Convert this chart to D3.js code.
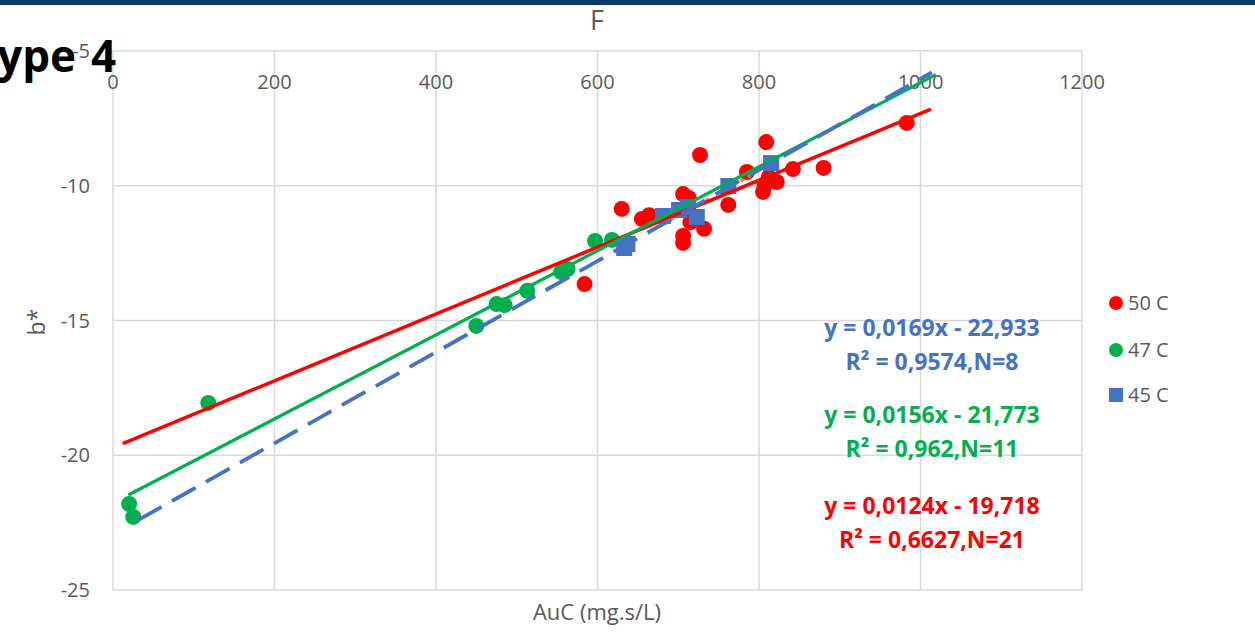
<!DOCTYPE html>
<html>
<head>
<meta charset="utf-8">
<title>F - b* vs AuC</title>
<script src="https://d3js.org/d3.v7.min.js"></script>
<style>
  body { margin: 0; background: #fff; }
  text { font-family: "Open Sans", "DejaVu Sans", sans-serif; }
</style>
</head>
<body>
<script>
// data: [AuC, b*]
const s50 = [
  [584, -13.65], [630, -10.86], [655, -11.23], [664, -11.09], [706, -10.31],
  [713, -10.45], [715, -11.35], [706, -11.86], [706, -12.12], [732, -11.6],
  [727, -8.86], [762, -10.71], [785, -9.49], [809, -8.38], [812, -9.68],
  [822, -9.86], [805, -10.23], [807, -9.97], [842, -9.38], [880, -9.34], [983, -7.67]
];
const s47 = [
  [20, -21.81], [25, -22.29], [118, -18.06], [450, -15.2], [475, -14.39],
  [485, -14.43], [513, -13.9], [555, -13.2], [563, -13.09], [597, -12.05], [618, -12.01]
];
const s45 = [
  [633, -12.31], [637, -12.16], [681, -11.12], [701, -10.9], [712, -10.79],
  [723, -11.16], [762, -10.01], [815, -9.16]
];
// tiny orange markers
const sExtra = [[640, -12.12], [684, -11.38], [692, -11.23], [736, -10.53], [779, -9.79], [788, -9.64]];

// trendlines: slope, intercept and x extent
const trend50 = { slope: 0.0124, intercept: -19.718, from: 12, to: 1013 };
const trend47 = { slope: 0.0156, intercept: -21.773, from: 19, to: 1019 };
const trend45 = { slope: 0.0169, intercept: -22.933, from: 31, to: 1014 };

const eq45 = ["y = 0,0169x - 22,933", "R² = 0,9574,N=8"];
const eq47 = ["y = 0,0156x - 21,773", "R² = 0,962,N=11"];
const eq50 = ["y = 0,0124x - 19,718", "R² = 0,6627,N=21"];

const xTicks = [0, 200, 400, 600, 800, 1000, 1200];
const yTicks = [-5, -10, -15, -20, -25];
const legendNames = ["50 C", "47 C", "45 C"];

const W = 1255, H = 634;
const red = "#FF0000", green = "#00B050", blue = "#4472C4", orange = "#ED7D31";
const grey = "#595959";

const svg = d3.select("body").append("svg").attr("width", W).attr("height", H);

const x = d3.scaleLinear().domain([0, 1200]).range([113, 1082]);
const y = d3.scaleLinear().domain([-25, -5]).range([590, 51]);

// navy band on top
svg.append("rect").attr("x", 0).attr("y", 0).attr("width", W).attr("height", 5).attr("fill", "#0B3A66");

// grid
svg.append("g").selectAll("line").data(xTicks).join("line")
  .attr("x1", d => x(d)).attr("x2", d => x(d)).attr("y1", y(-5)).attr("y2", y(-25))
  .attr("stroke", "#D9D9D9").attr("stroke-width", 1.5);
svg.append("g").selectAll("line").data(yTicks).join("line")
  .attr("x1", x(0)).attr("x2", x(1200)).attr("y1", d => y(d)).attr("y2", d => y(d))
  .attr("stroke", "#D9D9D9").attr("stroke-width", 1.5);

// tick labels (x axis sits at the top, at y = -5)
svg.append("g").selectAll("text").data(xTicks).join("text")
  .attr("x", d => x(d)).attr("y", y(-5) + 38)
  .attr("text-anchor", "middle").attr("fill", grey).attr("font-size", 20)
  .text(d => d);
svg.append("g").selectAll("text").data(yTicks).join("text")
  .attr("x", 90).attr("y", d => y(d) + 7)
  .attr("text-anchor", "end").attr("fill", grey).attr("font-size", 20)
  .text(d => d);

// titles
svg.append("text").attr("x", 597).attr("y", 30).attr("text-anchor", "middle")
  .attr("fill", grey).attr("font-size", 27).text("F");
svg.append("text").attr("x", 597).attr("y", 620).attr("text-anchor", "middle")
  .attr("fill", grey).attr("font-size", 22).text("AuC (mg.s/L)");
svg.append("text").attr("transform", "translate(45,322) rotate(-90)").attr("text-anchor", "middle")
  .attr("fill", grey).attr("font-size", 23).text("b*");

// points
const pts = svg.append("g");
pts.selectAll("circle.r").data(s50).join("circle").attr("class", "r")
  .attr("cx", d => x(d[0])).attr("cy", d => y(d[1])).attr("r", 8).attr("fill", red);
pts.selectAll("circle.g").data(s47).join("circle").attr("class", "g")
  .attr("cx", d => x(d[0])).attr("cy", d => y(d[1])).attr("r", 8).attr("fill", green);
pts.selectAll("rect").data(s45).join("rect")
  .attr("x", d => x(d[0]) - 8).attr("y", d => y(d[1]) - 8)
  .attr("width", 16).attr("height", 16).attr("fill", blue);
pts.selectAll("circle.o").data(sExtra).join("circle").attr("class", "o")
  .attr("cx", d => x(d[0])).attr("cy", d => y(d[1])).attr("r", 2).attr("fill", orange);

// trendlines
const line = d3.line().x(d => x(d[0])).y(d => y(d[1]));
function trendPts(t) {
  return [t.from, t.to].map(v => [v, t.slope * v + t.intercept]);
}
svg.append("path").attr("d", line(trendPts(trend50))).attr("stroke", red)
  .attr("stroke-width", 3.5).attr("fill", "none");
svg.append("path").attr("d", line(trendPts(trend47))).attr("stroke", green)
  .attr("stroke-width", 3.2).attr("fill", "none");
svg.append("path").attr("d", line(trendPts(trend45))).attr("stroke", blue)
  .attr("stroke-width", 3.8).attr("fill", "none").attr("stroke-dasharray", "27,12");

// equation labels
const eqs = [[eq45, blue, 336], [eq47, green, 423], [eq50, red, 514]];
eqs.forEach(([lines, c, y0]) => {
  lines.forEach((t, i) => {
    svg.append("text").attr("x", 932).attr("y", y0 + i * 34)
      .attr("text-anchor", "middle").attr("fill", c)
      .attr("font-size", 23).attr("font-weight", "bold").text(t);
  });
});

// legend
const lg = svg.append("g");
const legY = [303, 350, 395];
const legC = [red, green, blue];
legendNames.forEach((n, i) => {
  if (i < 2) {
    lg.append("circle").attr("cx", 1116).attr("cy", legY[i]).attr("r", 7).attr("fill", legC[i]);
  } else {
    lg.append("rect").attr("x", 1109).attr("y", legY[i] - 7).attr("width", 14).attr("height", 14).attr("fill", legC[i]);
  }
  lg.append("text").attr("x", 1128).attr("y", legY[i] + 7).attr("fill", grey)
    .attr("font-size", 20).text(n);
});

// cropped slide heading over the chart
svg.append("text").attr("x", 76).attr("y", 72).attr("text-anchor", "end")
  .attr("font-size", 44).attr("font-weight", "bold").attr("fill", "#000").text("ype");
svg.append("text").attr("x", 91).attr("y", 72)
  .attr("font-size", 44).attr("font-weight", "bold").attr("fill", "#000").text("4");
</script>
</body>
</html>
